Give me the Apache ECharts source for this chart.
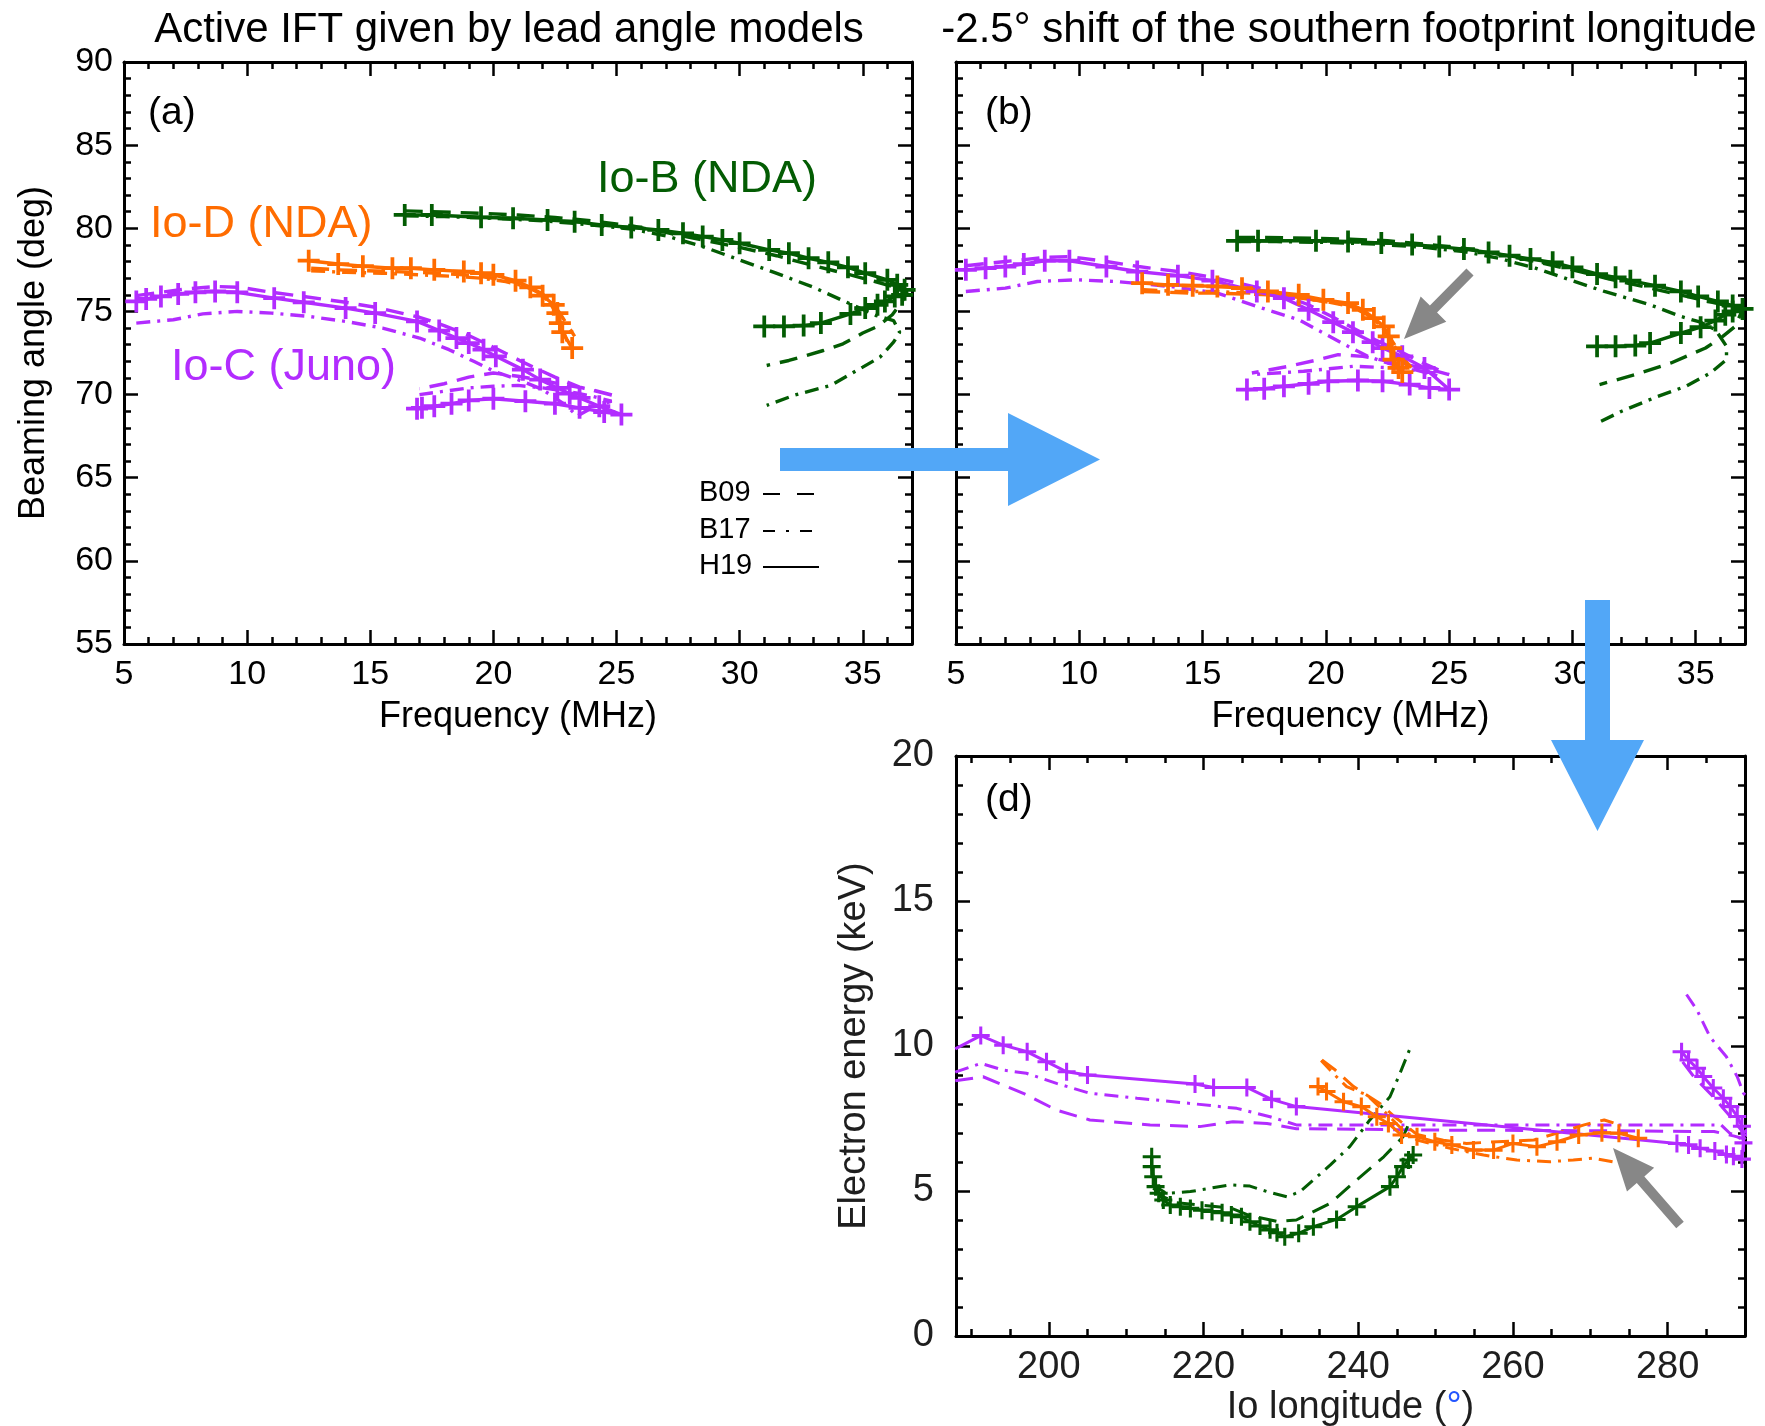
<!DOCTYPE html>
<html><head><meta charset="utf-8">
<script src="https://cdn.jsdelivr.net/npm/echarts@6/dist/echarts.min.js"></script>
<style>html,body{margin:0;padding:0;background:#fff}#c{width:1765px;height:1426px}</style>
</head><body><div id="c"></div>
<script>
// ---------------- DATA ----------------
// Panel (a): frequency (MHz) vs beaming angle (deg)
const a_IoC_H19 = [[5.5,75.6],[5.9,75.75],[6.5,75.9],[7.2,76.05],[7.9,76.15],[8.7,76.2],[9.6,76.15],[11.1,75.8],[12.3,75.55],[14.0,75.2],[15.2,74.9],[16.9,74.4],[17.8,73.85],[18.5,73.4],[19.0,73.1],[19.6,72.7],[20.1,72.3],[21.2,71.5],[21.9,70.9],[22.6,70.4],[23.1,70.05],[23.5,69.8],[24.3,69.3],[25.2,68.8],[24.5,68.95],[23.5,69.2],[22.5,69.45],[21.3,69.6],[20.0,69.75],[19.0,69.65],[18.3,69.45],[17.6,69.3],[17.1,69.2],[16.9,69.15]];
const a_IoC_B09 = [[5.5,75.95],[6.5,76.15],[7.5,76.35],[8.7,76.5],[9.7,76.45],[11.0,76.15],[12.3,75.9],[14.0,75.55],[15.2,75.25],[17.0,74.65],[18.0,74.15],[19.0,73.55],[20.0,72.85],[21.2,71.95],[22.5,71.05],[23.5,70.45],[25.0,69.9],[24.0,70.3],[23.0,70.55],[22.0,70.85],[21.0,71.1],[20.0,71.3],[19.0,71.05],[18.0,70.65],[17.0,70.35]];
const a_IoC_B17 = [[5.5,74.3],[7.0,74.5],[8.2,74.85],[9.6,75.0],[11.0,74.9],[12.5,74.7],[14.0,74.4],[15.5,74.0],[17.0,73.4],[18.2,72.7],[19.2,72.0],[20.1,71.35],[21.0,70.9],[22.0,70.3],[23.0,69.3],[23.4,68.7],[24.0,69.2],[24.8,69.6],[24.0,69.9],[23.0,70.2],[22.0,70.4],[21.0,70.55],[20.0,70.5],[19.0,70.4],[18.0,70.2],[17.0,70.0]];
const a_IoD_H19 = [[12.5,78.05],[13.7,77.85],[14.7,77.72],[15.9,77.6],[16.65,77.6],[17.6,77.5],[18.8,77.4],[19.5,77.3],[20.0,77.2],[20.9,76.85],[21.5,76.45],[22.0,75.95],[22.45,75.4],[22.6,74.9],[22.7,74.3],[22.8,73.75],[23.2,72.8]];
const a_IoD_B09 = [[12.6,77.6],[13.7,77.5],[14.7,77.45],[15.9,77.4],[16.9,77.35],[17.8,77.3],[18.8,77.2],[19.5,77.1],[20.2,76.95],[20.9,76.75],[21.5,76.45],[22.0,76.05],[22.4,75.5],[22.7,74.9],[23.0,74.2],[23.3,73.5]];
const a_IoD_B17 = [[12.6,77.45],[14.0,77.35],[15.5,77.3],[17.0,77.2],[18.5,77.1],[19.5,77.0],[20.5,76.8],[21.3,76.5],[21.9,76.1],[22.3,75.5],[22.6,74.8],[22.8,74.0],[23.0,73.2]];
const a_IoB_H19 = [[16.4,80.8],[17.5,80.8],[19.5,80.66],[20.8,80.6],[22.2,80.5],[23.3,80.4],[24.4,80.2],[25.6,80.05],[26.7,79.9],[27.7,79.7],[28.5,79.5],[29.3,79.3],[30.0,79.1],[31.2,78.7],[32.0,78.5],[32.8,78.2],[33.6,77.95],[34.4,77.65],[35.1,77.3],[36.0,76.9],[36.4,76.6],[36.7,76.3],[36.6,76.0],[36.3,75.9],[35.9,75.6],[35.6,75.4],[35.1,75.2],[34.5,74.85],[33.3,74.3],[32.6,74.15],[31.8,74.1],[31.0,74.1]];
const a_IoB_B09 = [[16.4,81.05],[17.5,81.0],[19.5,80.9],[21.0,80.8],[22.5,80.65],[24.0,80.45],[25.6,80.15],[27.0,79.75],[28.5,79.3],[30.0,78.85],[31.5,78.35],[33.0,77.75],[34.5,77.2],[35.5,76.8],[36.3,76.45],[36.8,76.2],[36.6,75.6],[36.2,74.8],[35.6,74.1],[35.0,73.7],[34.2,73.05],[33.4,72.65],[32.0,72.05],[31.1,71.75]];
const a_IoB_B17 = [[16.4,80.75],[18.0,80.7],[20.0,80.6],[22.0,80.45],[24.0,80.2],[25.6,79.95],[27.0,79.55],[28.5,78.9],[29.9,78.15],[31.4,77.35],[33.0,76.45],[34.35,75.55],[35.55,74.75],[36.25,74.45],[36.5,73.75],[36.25,73.15],[35.7,72.25],[35.0,71.65],[33.7,70.55],[32.2,69.95],[31.1,69.35]];

// Panel (b): -2.5 deg shift
const b_IoC_H19 = [[5.4,77.5],[6.2,77.6],[7.0,77.7],[7.75,77.85],[8.6,78.05],[9.6,78.05],[11.1,77.7],[12.35,77.4],[14.0,77.15],[15.4,76.85],[17.2,76.2],[18.3,75.8],[19.3,75.1],[20.3,74.35],[21.1,73.75],[21.9,73.15],[22.3,72.8],[23.1,72.3],[24.0,71.6],[25.0,70.3],[24.2,70.4],[23.4,70.6],[22.3,70.8],[21.3,70.85],[20.1,70.8],[19.3,70.65],[18.3,70.5],[17.5,70.35],[16.8,70.3]];
const b_IoC_B09 = [[5.4,77.75],[7.0,78.0],[8.6,78.25],[9.6,78.3],[11.1,78.0],[12.4,77.7],[14.0,77.4],[15.4,77.05],[17.2,76.45],[18.3,75.95],[19.3,75.4],[20.3,74.65],[21.1,74.0],[22.0,73.3],[23.0,72.6],[24.0,71.85],[25.0,71.2],[24.0,71.6],[22.9,71.9],[21.5,72.3],[20.5,72.4],[19.7,72.1],[18.5,71.7],[17.0,71.3]];
const b_IoC_B17 = [[5.4,76.2],[7.0,76.4],[8.3,76.8],[9.9,76.9],[11.5,76.8],[13.7,76.5],[15.6,76.1],[17.2,75.3],[18.9,74.5],[19.9,73.7],[20.9,72.9],[21.7,72.3],[22.5,71.9],[23.6,71.5],[24.6,71.1],[24.4,71.3],[22.9,71.6],[21.1,71.7],[19.1,71.4],[17.0,71.2]];
const b_IoD_H19 = [[12.55,76.7],[13.6,76.6],[14.6,76.55],[15.6,76.5],[16.6,76.4],[17.65,76.2],[18.9,76.0],[19.9,75.7],[20.9,75.5],[21.5,75.1],[21.95,74.6],[22.35,74.1],[22.55,73.5],[22.65,72.8],[22.75,72.1],[22.95,71.6],[23.1,71.35]];
const b_IoD_B09 = [[12.55,76.2],[13.6,76.15],[14.6,76.1],[15.6,76.1],[16.6,76.05],[17.7,76.0],[18.9,75.85],[19.9,75.6],[20.9,75.4],[21.5,75.0],[22.0,74.5],[22.4,73.9],[22.7,73.2],[23.0,72.5],[23.3,71.9],[23.6,71.4]];
const b_IoD_B17 = [[12.6,76.3],[14.0,76.2],[15.5,76.2],[17.0,76.1],[18.5,75.9],[20.0,75.6],[21.0,75.3],[21.7,74.8],[22.2,74.2],[22.6,73.4],[22.9,72.6],[23.2,71.9],[23.5,71.3]];
const b_IoB_H19 = [[16.4,79.25],[17.25,79.25],[19.6,79.25],[20.9,79.2],[22.25,79.12],[23.5,79.02],[24.6,78.9],[25.6,78.75],[26.6,78.55],[27.45,78.35],[28.3,78.15],[29.2,77.95],[30.0,77.65],[31.0,77.25],[31.75,77.05],[32.35,76.85],[33.35,76.55],[34.4,76.2],[35.1,75.9],[35.9,75.6],[36.5,75.35],[36.9,75.15],[36.5,75.0],[36.2,74.8],[35.8,74.45],[35.2,74.05],[34.4,73.7],[33.15,73.1],[32.55,72.95],[31.75,72.9],[31.0,72.9]];
const b_IoB_B09 = [[16.4,79.45],[17.5,79.45],[19.5,79.4],[21.0,79.35],[22.5,79.25],[24.0,79.05],[25.6,78.8],[27.0,78.45],[28.5,78.0],[30.0,77.5],[31.5,76.95],[33.0,76.45],[34.5,75.95],[35.5,75.6],[36.4,75.3],[36.9,75.1],[36.6,74.1],[36.1,73.5],[35.4,72.8],[34.0,71.9],[32.55,71.2],[31.1,70.6]];
const b_IoB_B17 = [[16.4,79.2],[18.0,79.2],[20.0,79.15],[22.0,79.05],[24.0,78.85],[25.6,78.6],[27.0,78.2],[28.5,77.6],[29.7,77.0],[31.3,76.2],[33.15,75.4],[34.4,74.7],[35.2,74.35],[35.8,73.9],[36.25,72.9],[36.25,72.1],[35.6,71.3],[34.6,70.5],[33.4,69.85],[32.0,69.0],[31.1,68.35]];

// Panel (d): Io longitude (deg) vs electron energy (keV)
const d_IoC_H19 = [[187.9,9.9],[191.2,10.36],[194.1,10.03],[197.2,9.8],[199.7,9.46],[202.3,9.11],[205.0,9.0],[218.9,8.69],[221.3,8.57],[225.6,8.57],[228.8,8.16],[232.0,7.91],[281.2,6.64],[282.7,6.59],[284.2,6.47],[286.1,6.38],[287.6,6.26],[288.5,6.2],[289.6,6.1],[289.8,6.66],[289.6,7.23],[289.0,7.57],[288.1,7.91],[287.2,8.2],[285.9,8.55],[284.6,8.95],[283.8,9.23],[282.7,9.52],[281.8,9.8]];
const d_IoC_B09 = [[187.9,8.8],[191.5,8.94],[196.7,8.37],[201.0,7.79],[205.3,7.45],[213.1,7.28],[219.5,7.22],[223.8,7.39],[228.2,7.33],[232.0,7.15],[250.0,7.1],[270.0,7.08],[286.0,7.05],[288.5,6.9],[289.9,6.8],[292.0,7.5],[289.8,7.0],[288.5,7.44],[285.9,8.25],[283.5,8.9],[281.8,9.5]];
const d_IoC_B17 = [[187.9,9.1],[191.2,9.4],[194.1,9.17],[197.1,9.06],[201.0,8.71],[205.3,8.37],[211.4,8.2],[218.3,8.02],[224.3,7.85],[228.6,7.56],[232.0,7.28],[286.9,7.28],[288.0,7.0],[289.8,6.76],[292.0,7.8],[289.8,8.37],[289.0,8.94],[287.6,9.63],[285.5,10.3],[283.8,11.24],[282.2,11.87]];
const d_IoD_H19 = [[234.8,8.6],[235.9,8.43],[238.1,8.08],[240.4,7.91],[242.4,7.56],[243.9,7.33],[245.6,6.93],[247.6,6.87],[249.9,6.7],[252.1,6.59],[254.9,6.41],[257.5,6.41],[260.0,6.64],[263.1,6.53],[265.7,6.7],[268.5,6.93],[271.5,7.01],[273.7,6.99],[276.2,6.82]];
const d_IoD_B09 = [[235.3,9.52],[236.9,9.2],[239.4,8.6],[242.8,8.02],[244.7,7.56],[247.6,6.95],[251.0,6.75],[254.0,6.64],[258.0,6.7],[262.7,6.76],[267.0,7.1],[269.2,7.28],[271.8,7.45],[273.0,7.35]];
const d_IoD_B17 = [[235.2,9.5],[237.2,8.94],[238.5,8.6],[241.1,8.31],[243.2,7.79],[245.4,7.2],[247.6,6.76],[251.9,6.47],[256.2,6.24],[260.5,6.07],[264.8,6.01],[267.8,6.07],[270.4,6.13],[273.8,5.96]];
const d_IoB_H19 = [[213.3,6.18],[213.3,5.84],[213.5,5.49],[213.8,5.15],[214.2,4.92],[214.8,4.69],[215.7,4.52],[217.0,4.46],[218.3,4.4],[219.8,4.34],[221.1,4.29],[222.4,4.25],[223.6,4.17],[224.9,4.11],[226.0,3.94],[227.3,3.79],[228.6,3.66],[229.5,3.56],[230.5,3.42],[232.3,3.54],[234.2,3.77],[237.2,4.02],[239.8,4.46],[244.1,5.15],[245.0,5.49],[245.8,5.84],[246.5,6.07],[247.1,6.24]];
const d_IoB_B09 = [[213.5,5.1],[214.8,4.8],[216.5,4.6],[220.0,4.5],[223.5,4.42],[226.0,4.15],[229.5,3.95],[232.0,4.0],[236.4,4.58],[239.8,5.38],[243.3,6.18],[245.8,6.87],[246.5,7.3]];
const d_IoB_B17 = [[213.5,5.2],[215.2,4.92],[218.3,4.98],[223.4,5.21],[226.0,5.17],[228.2,4.98],[230.8,4.8],[232.5,4.98],[236.4,5.9],[238.9,6.53],[241.5,7.45],[244.1,8.25],[245.4,9.06],[246.7,9.92]];

// Tick values
const freqMajor = [5, 10, 15, 20, 25, 30, 35];
const angleMajor = [55, 60, 65, 70, 75, 80, 85, 90];
const lonMajor = [200, 220, 240, 260, 280];
const energyMajor = [0, 5, 10, 15, 20];

// Labels
const titleA = 'Active IFT given by lead angle models';
const titleB = '-2.5° shift of the southern footprint longitude';
const legendNames = ['B09', 'B17', 'H19'];

// ---------------- STYLE / LAYOUT ----------------
const FONT = "'Liberation Sans', Arial, Helvetica, sans-serif";
const C_PURPLE = '#b22cff', C_ORANGE = '#ff6c00', C_GREEN = '#035c03';
const C_BLUE = '#52a7f7', C_GRAY = '#878787';
const PLUS = 'path://M-1.7,-10h3.4v8.3h8.3v3.4h-8.3v8.3h-3.4v-8.3h-8.3v-3.4h8.3z';

function seq(a, b, s) { const r = []; for (let v = a; v <= b + 1e-9; v += s) r.push(+v.toFixed(6)); return r; }

const grids = [], xAxes = [], yAxes = [], series = [];
function addPanel(cfg) {
  const gi = grids.length;
  grids.push({ left: cfg.box[0], top: cfg.box[1], width: cfg.box[2], height: cfg.box[3], containLabel: false, outerBoundsMode: 'none' });
  const base = { type: 'value', gridIndex: gi, splitLine: { show: false }, splitArea: { show: false }, silent: true, nameMoveOverlap: false };
  const line = { show: true, onZero: false, lineStyle: { color: '#000', width: 3 } };
  const noLine = { show: false, onZero: false };
  const tick = (vals, len) => ({ show: true, inside: true, length: len, customValues: vals, lineStyle: { color: '#000', width: 2.5 } });
  const noLab = { show: false };
  const xi = xAxes.length, yi = yAxes.length;
  const xr = { min: cfg.xr[0], max: cfg.xr[1] }, yr = { min: cfg.yr[0], max: cfg.yr[1] };
  xAxes.push(Object.assign({}, base, xr, {
    position: 'bottom', axisLine: line, axisTick: tick(cfg.xMaj, 14),
    axisLabel: { show: true, customValues: cfg.xMaj, margin: cfg.xLabMargin, fontSize: cfg.tickFont, color: cfg.tickColor, fontFamily: FONT, showMinLabel: true, showMaxLabel: true, hideOverlap: false },
    name: cfg.xName, nameLocation: 'middle', nameGap: cfg.xNameGap,
    nameTextStyle: Object.assign({ fontSize: cfg.nameFont, color: cfg.nameColor, fontFamily: FONT }, cfg.xNameStyle || {})
  }));
  xAxes.push(Object.assign({}, base, xr, { position: 'bottom', axisLine: noLine, axisTick: tick(cfg.xMin, 7), axisLabel: noLab }));
  xAxes.push(Object.assign({}, base, xr, { position: 'top', axisLine: line, axisTick: tick(cfg.xMaj, 14), axisLabel: noLab }));
  xAxes.push(Object.assign({}, base, xr, { position: 'top', axisLine: noLine, axisTick: tick(cfg.xMin, 7), axisLabel: noLab }));
  yAxes.push(Object.assign({}, base, yr, {
    position: 'left', axisLine: line, axisTick: tick(cfg.yMaj, 14),
    axisLabel: { show: cfg.showY, customValues: cfg.yMaj, margin: cfg.yLabMargin, fontSize: cfg.tickFont, color: cfg.tickColor, fontFamily: FONT, showMinLabel: true, showMaxLabel: true, hideOverlap: false },
    name: cfg.yName || '', nameLocation: 'middle', nameGap: cfg.yNameGap || 0,
    nameTextStyle: { fontSize: cfg.nameFont, color: cfg.nameColor, fontFamily: FONT }
  }));
  yAxes.push(Object.assign({}, base, yr, { position: 'left', axisLine: noLine, axisTick: tick(cfg.yMin, 7), axisLabel: noLab }));
  yAxes.push(Object.assign({}, base, yr, { position: 'right', axisLine: line, axisTick: tick(cfg.yMaj, 14), axisLabel: noLab }));
  yAxes.push(Object.assign({}, base, yr, { position: 'right', axisLine: noLine, axisTick: tick(cfg.yMin, 7), axisLabel: noLab }));
  return { xi, yi };
}

function addLine(p, data, color, model, width, msize) {
  const type = model === 'B09' ? [18, 10] : model === 'B17' ? [14, 7, 3, 7] : 'solid';
  const isH = model === 'H19';
  series.push({
    type: 'line', xAxisIndex: p.xi, yAxisIndex: p.yi, data: data, clip: true,
    showSymbol: isH, showAllSymbol: true, symbol: isH ? PLUS : 'none', symbolSize: msize,
    itemStyle: { color: color }, lineStyle: { color: color, width: width, type: type },
    emphasis: { disabled: true }, silent: true, animation: false, z: isH ? 4 : 3
  });
}

const pA = addPanel({ box: [124, 62, 788, 582], xr: [5, 37], yr: [55, 90], xMaj: freqMajor, xMin: seq(5, 37, 1), yMaj: angleMajor, yMin: seq(55, 90, 1),
  showY: true, tickFont: 34, tickColor: '#000', xLabMargin: 14, yLabMargin: 11, nameFont: 36, nameColor: '#000',
  xName: 'Frequency (MHz)', xNameGap: 55, yName: 'Beaming angle (deg)', yNameGap: 72 });
const pB = addPanel({ box: [956, 62, 789, 582], xr: [5, 37], yr: [55, 90], xMaj: freqMajor, xMin: seq(5, 37, 1), yMaj: angleMajor, yMin: seq(55, 90, 1),
  showY: false, tickFont: 34, tickColor: '#000', xLabMargin: 14, yLabMargin: 11, nameFont: 36, nameColor: '#000',
  xName: 'Frequency (MHz)', xNameGap: 55 });
const pD = addPanel({ box: [956, 756, 789, 580], xr: [188, 290], yr: [0, 20], xMaj: lonMajor, xMin: seq(190, 290, 5), yMaj: energyMajor, yMin: seq(0, 20, 1),
  showY: true, tickFont: 38, tickColor: '#1e1e1e', xLabMargin: 13, yLabMargin: 22, nameFont: 38, nameColor: '#1e1e1e',
  xName: 'Io longitude ({b|°})', xNameGap: 53, xNameStyle: { rich: { b: { color: '#2255ff', fontSize: 38, fontFamily: FONT } } },
  yName: 'Electron energy (keV)', yNameGap: 82 });

// panel (a)
const WA = 3.4, MA = 22, WD = 3, MD = 18;
addLine(pA, a_IoC_B17, C_PURPLE, 'B17', WA, MA); addLine(pA, a_IoC_B09, C_PURPLE, 'B09', WA, MA); addLine(pA, a_IoC_H19, C_PURPLE, 'H19', WA, MA);
addLine(pA, a_IoD_B17, C_ORANGE, 'B17', WA, MA); addLine(pA, a_IoD_B09, C_ORANGE, 'B09', WA, MA); addLine(pA, a_IoD_H19, C_ORANGE, 'H19', WA, MA);
addLine(pA, a_IoB_B17, C_GREEN, 'B17', WA, MA); addLine(pA, a_IoB_B09, C_GREEN, 'B09', WA, MA); addLine(pA, a_IoB_H19, C_GREEN, 'H19', WA, MA);
// panel (b)
addLine(pB, b_IoC_B17, C_PURPLE, 'B17', WA, MA); addLine(pB, b_IoC_B09, C_PURPLE, 'B09', WA, MA); addLine(pB, b_IoC_H19, C_PURPLE, 'H19', WA, MA);
addLine(pB, b_IoD_B17, C_ORANGE, 'B17', WA, MA); addLine(pB, b_IoD_B09, C_ORANGE, 'B09', WA, MA); addLine(pB, b_IoD_H19, C_ORANGE, 'H19', WA, MA);
addLine(pB, b_IoB_B17, C_GREEN, 'B17', WA, MA); addLine(pB, b_IoB_B09, C_GREEN, 'B09', WA, MA); addLine(pB, b_IoB_H19, C_GREEN, 'H19', WA, MA);
// panel (d)
addLine(pD, d_IoC_B17, C_PURPLE, 'B17', WD, MD); addLine(pD, d_IoC_B09, C_PURPLE, 'B09', WD, MD); addLine(pD, d_IoC_H19, C_PURPLE, 'H19', WD, MD);
addLine(pD, d_IoB_B17, C_GREEN, 'B17', WD, MD); addLine(pD, d_IoB_B09, C_GREEN, 'B09', WD, MD); addLine(pD, d_IoB_H19, C_GREEN, 'H19', WD, MD);
addLine(pD, d_IoD_B17, C_ORANGE, 'B17', WD, MD); addLine(pD, d_IoD_B09, C_ORANGE, 'B09', WD, MD); addLine(pD, d_IoD_H19, C_ORANGE, 'H19', WD, MD);

// ---------------- ANNOTATIONS ----------------
function txt(x, y, text, size, color, align) {
  return { type: 'text', x: x, y: y, z: 50, silent: true,
    style: { text: text, font: size + 'px ' + FONT, fill: color, textAlign: align || 'left', align: align || 'left', textVerticalAlign: 'middle', verticalAlign: 'middle' } };
}
function arrowPts(tail, tip, sw, hl, hw) {
  const dx = tip[0] - tail[0], dy = tip[1] - tail[1], L = Math.hypot(dx, dy);
  const ux = dx / L, uy = dy / L, px = -uy, py = ux;
  const bx = tip[0] - ux * hl, by = tip[1] - uy * hl;
  return [[tail[0] + px * sw / 2, tail[1] + py * sw / 2], [bx + px * sw / 2, by + py * sw / 2], [bx + px * hw / 2, by + py * hw / 2], tip,
          [bx - px * hw / 2, by - py * hw / 2], [bx - px * sw / 2, by - py * sw / 2], [tail[0] - px * sw / 2, tail[1] - py * sw / 2]];
}
function arrow(tail, tip, sw, hl, hw, color) {
  return { type: 'polygon', z: 60, silent: true, shape: { points: arrowPts(tail, tip, sw, hl, hw) }, style: { fill: color } };
}
function seg(x1, x2, y, dash) {
  return { type: 'line', z: 50, silent: true, shape: { x1: x1, y1: y, x2: x2, y2: y }, style: { stroke: '#000', lineWidth: 2.2, lineDash: dash || null } };
}

const graphic = [
  txt(509, 30, titleA, 42, '#000', 'center'),
  txt(1349, 30, titleB, 42, '#000', 'center'),
  txt(148, 113, '(a)', 39, '#000'),
  txt(985, 113, '(b)', 39, '#000'),
  txt(985, 800, '(d)', 39, '#000'),
  txt(597, 180, 'Io-B (NDA)', 45, C_GREEN),
  txt(150, 225, 'Io-D (NDA)', 45, C_ORANGE),
  txt(171, 368, 'Io-C (Juno)', 45, C_PURPLE),
  txt(699, 493, legendNames[0], 29, '#000'),
  txt(699, 530, legendNames[1], 29, '#000'),
  txt(699, 566, legendNames[2], 29, '#000'),
  seg(763, 814, 494, [17, 17]),
  seg(763, 818, 531, [12, 11, 3, 11]),
  seg(763, 819, 567),
  arrow([780, 459.5], [1100, 459.5], 23, 92, 93, C_BLUE),
  arrow([1597.5, 600], [1597.5, 831], 25, 91, 93, C_BLUE),
  arrow([1470, 272], [1404, 339], 10, 42, 36, C_GRAY),
  arrow([1680, 1225], [1613, 1148], 10, 42, 36, C_GRAY)
];

const chart = echarts.init(document.getElementById('c'), null, { renderer: 'canvas' });
chart.setOption({
  backgroundColor: '#fff',
  animation: false,
  grid: grids,
  xAxis: xAxes,
  yAxis: yAxes,
  series: series,
  graphic: graphic
});
</script></body></html>
